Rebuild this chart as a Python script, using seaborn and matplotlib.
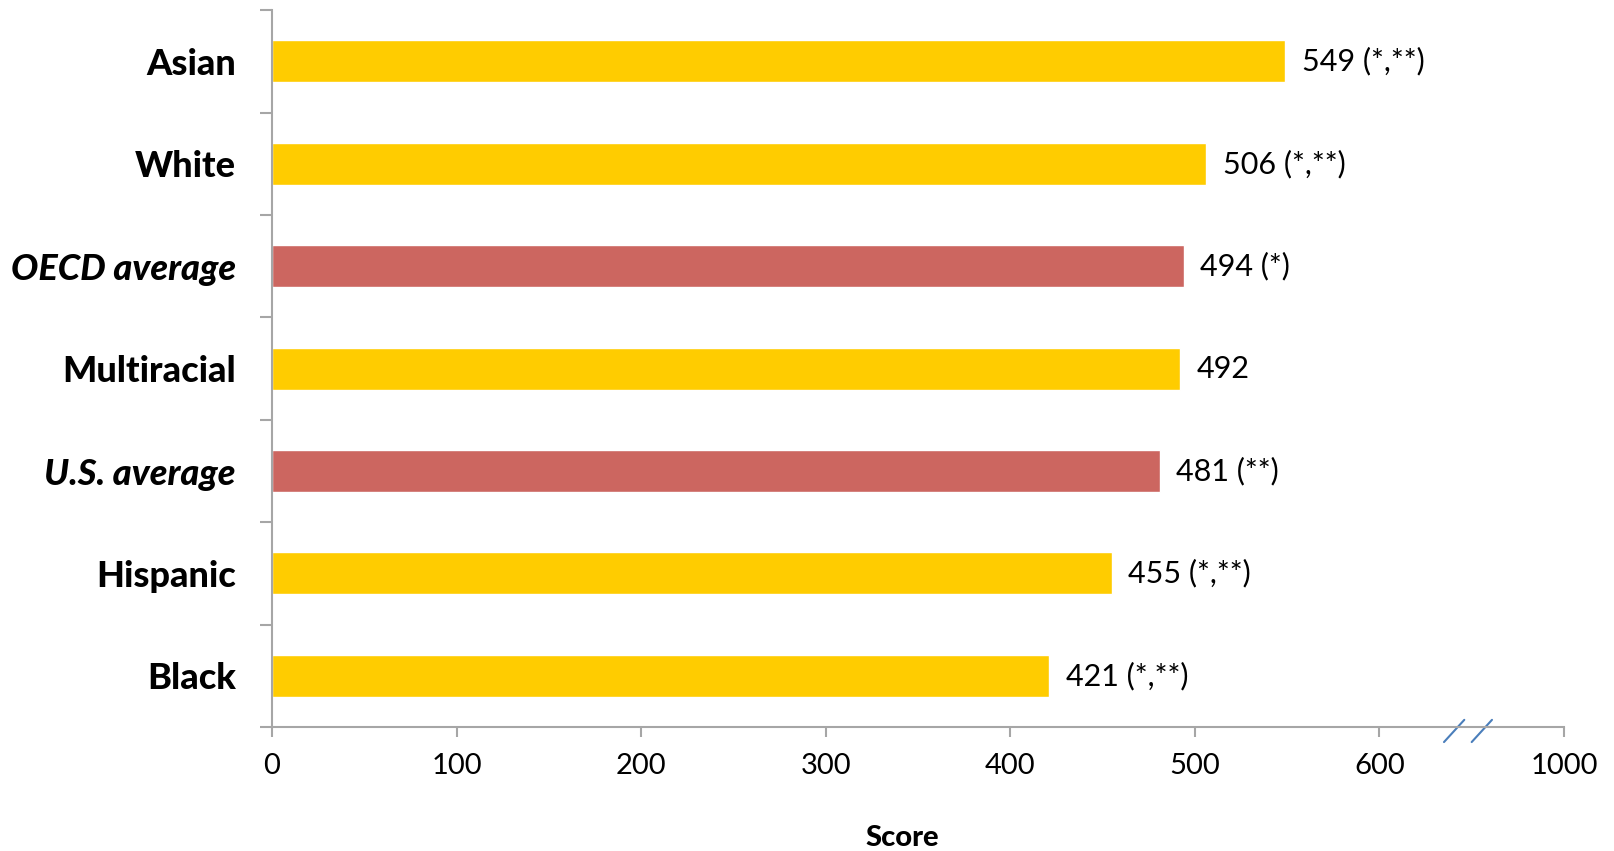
import matplotlib
matplotlib.use("Agg")
import matplotlib.pyplot as plt
import matplotlib.transforms as mtransforms
import seaborn as sns
import pandas as pd

categories = ["Asian", "White", "OECD average", "Multiracial", "U.S. average", "Hispanic", "Black"]
scores = [549, 506, 494, 492, 481, 455, 421]
value_labels = ["549 (*,**)", "506 (*,**)", "494 (*)", "492", "481 (**)", "455 (*,**)", "421 (*,**)"]
is_average = [False, False, True, False, True, False, False]
tick_values = [0, 100, 200, 300, 400, 500, 600, 700]
tick_labels = ["0", "100", "200", "300", "400", "500", "600", "1000"]

YELLOW = "#FFCC00"
RED = "#CC6660"
AXIS_GRAY = "#A6A6A6"

sns.set_theme(style="white")
plt.rcParams["font.family"] = ["Lato", "DejaVu Sans"]
plt.rcParams["text.color"] = "black"
plt.rcParams["xtick.labelcolor"] = "black"
plt.rcParams["ytick.labelcolor"] = "black"
plt.rcParams["axes.labelcolor"] = "black"

df = pd.DataFrame({"category": categories, "score": scores})
colors = [RED if a else YELLOW for a in is_average]

fig = plt.figure(figsize=(16.14, 8.51), dpi=100)
ax = fig.add_axes([0.1685, 0.1457, 0.969 - 0.1685, 0.988 - 0.1457])

sns.barplot(data=df, y="category", x="score", hue="category", palette=colors,
            legend=False, orient="h", width=0.41, ax=ax, saturation=1)

for cont, lab in zip(ax.containers, value_labels):
    texts = ax.bar_label(cont, labels=[lab], padding=12, fontsize=22, color="black")
    for t in texts:
        t.set_va("center")

ax.set_xlim(0, 700)
ax.set_ylim(6.5, -0.5)
ax.set_xticks(tick_values)
ax.set_xticklabels(tick_labels, fontsize=21)
ax.tick_params(axis="x", direction="out", length=7, width=1.5, color=AXIS_GRAY,
               labelcolor="black", pad=12, bottom=True)

ax.set_yticks(range(len(categories)))
ax.set_yticklabels(categories, fontsize=26, fontweight="black")
for lbl, avg in zip(ax.get_yticklabels(), is_average):
    if avg:
        lbl.set_fontstyle("italic")
ax.set_yticks([i - 0.5 for i in range(len(categories) + 1)], minor=True)
ax.tick_params(axis="y", which="major", length=0, pad=26, labelcolor="black")
ax.tick_params(axis="y", which="minor", direction="out", length=9, width=1.5,
               color=AXIS_GRAY, left=True)

ax.set_ylabel("")
ax.set_xlabel("Score", fontsize=21, fontweight="black", color="black")
ax.xaxis.set_label_coords(0.488, -0.137)

for s in ["top", "right"]:
    ax.spines[s].set_visible(False)
for s in ["left", "bottom"]:
    ax.spines[s].set_color(AXIS_GRAY)
    ax.spines[s].set_linewidth(1.5)

# axis break marks
trans = mtransforms.blended_transform_factory(ax.transData, ax.transAxes)
for xc in (640.5, 655.5):
    ax.plot([xc - 5.5, xc + 5.5], [-0.021, 0.010], color="#4A7EBB", lw=1.5,
            transform=trans, clip_on=False)

fig.savefig("out.png", dpi=100)
